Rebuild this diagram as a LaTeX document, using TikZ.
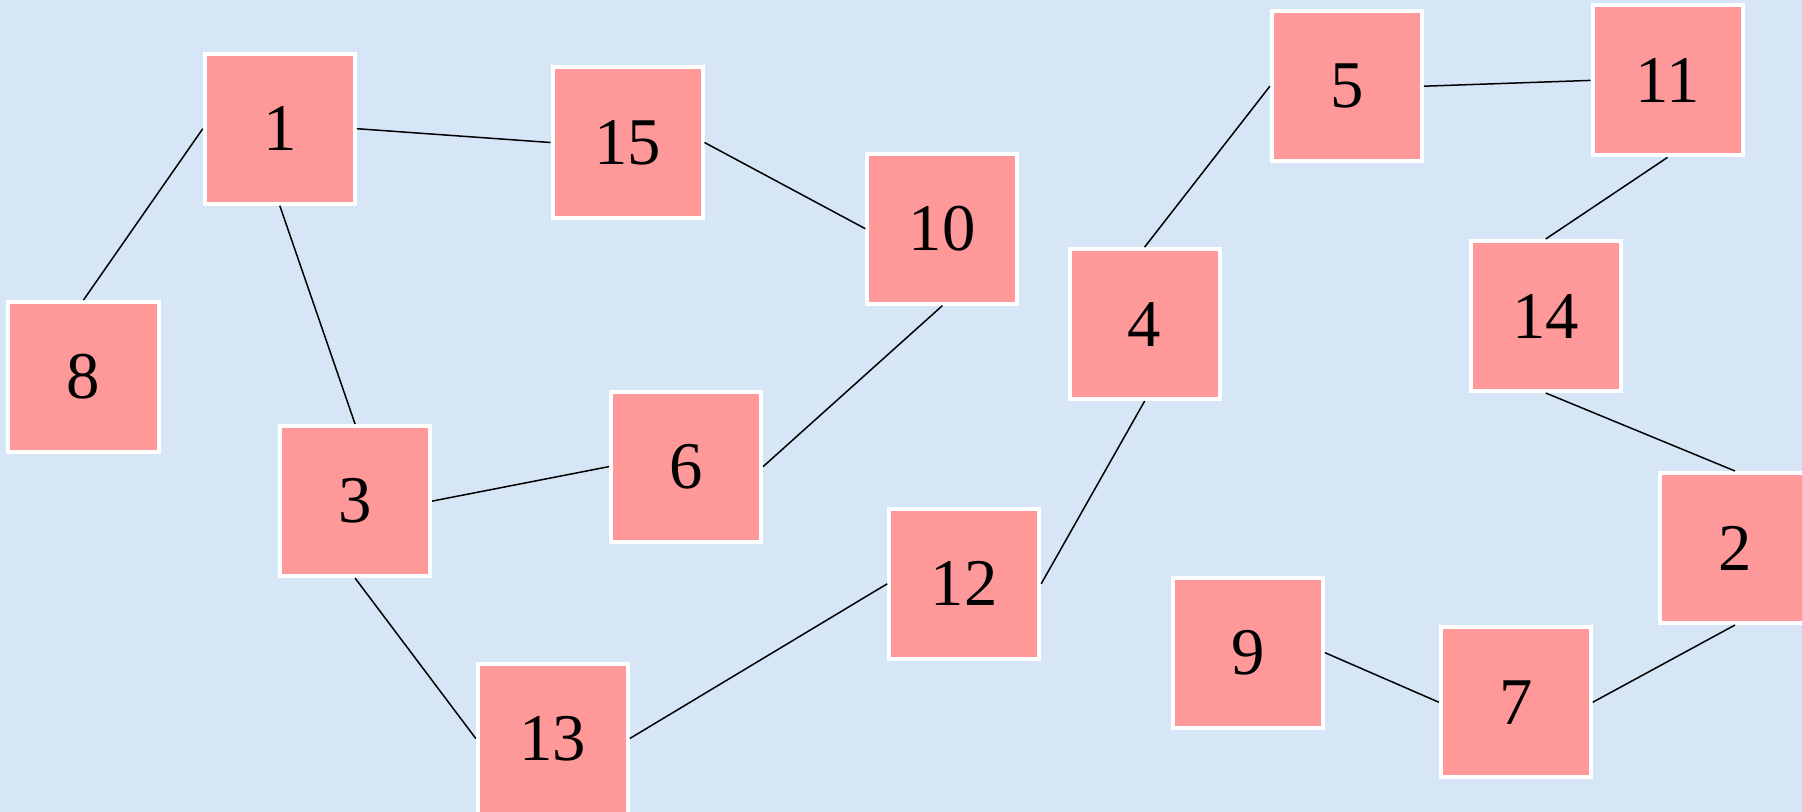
\documentclass[tikz,border=0pt]{standalone}
\usepackage{fontspec}
\setmainfont{Liberation Serif}
\definecolor{bgblue}{HTML}{D6E6F6}
\definecolor{boxpink}{HTML}{FF9999}
\begin{document}
\begin{tikzpicture}[x=1bp,y=-1bp,
  vbox/.style={draw=white,line width=4bp,fill=boxpink,minimum size=150bp,inner sep=0pt,
    font=\fontsize{67}{67}\selectfont,text=black},
  link/.style={draw=black,line width=1.5bp}]
\fill[bgblue] (0,0) rectangle (1802,812);
\useasboundingbox (0,0) rectangle (1802,812);
\node[vbox] (n1) at (279.8,128.7) {1};
\node[vbox] (n15) at (627.5,142.5) {15};
\node[vbox] (n10) at (942.3,228.7) {10};
\node[vbox] (n8) at (83.5,377) {8};
\node[vbox] (n3) at (355.1,501.1) {3};
\node[vbox] (n6) at (686.1,466.6) {6};
\node[vbox] (n13) at (552.8,738.5) {13};
\node[vbox] (n12) at (964.2,583.8) {12};
\node[vbox] (n4) at (1144.6,324.1) {4};
\node[vbox] (n5) at (1346.9,86.2) {5};
\node[vbox] (n11) at (1667.5,80.4) {11};
\node[vbox] (n14) at (1545.7,316) {14};
\node[vbox] (n2) at (1735,548) {2};
\node[vbox] (n9) at (1248,652.7) {9};
\node[vbox] (n7) at (1515.8,702.2) {7};
\draw[link] (n8.north) -- (n1.west);
\draw[link] (n1.east) -- (n15.west);
\draw[link] (n1.south) -- (n3.north);
\draw[link] (n15.east) -- (n10.west);
\draw[link] (n10.south) -- (n6.east);
\draw[link] (n3.east) -- (n6.west);
\draw[link] (n3.south) -- (n13.west);
\draw[link] (n13.east) -- (n12.west);
\draw[link] (n12.east) -- (n4.south);
\draw[link] (n4.north) -- (n5.west);
\draw[link] (n5.east) -- (n11.west);
\draw[link] (n11.south) -- (n14.north);
\draw[link] (n14.south) -- (n2.north);
\draw[link] (n2.south) -- (n7.east);
\draw[link] (n9.east) -- (n7.west);
\end{tikzpicture}
\end{document}
